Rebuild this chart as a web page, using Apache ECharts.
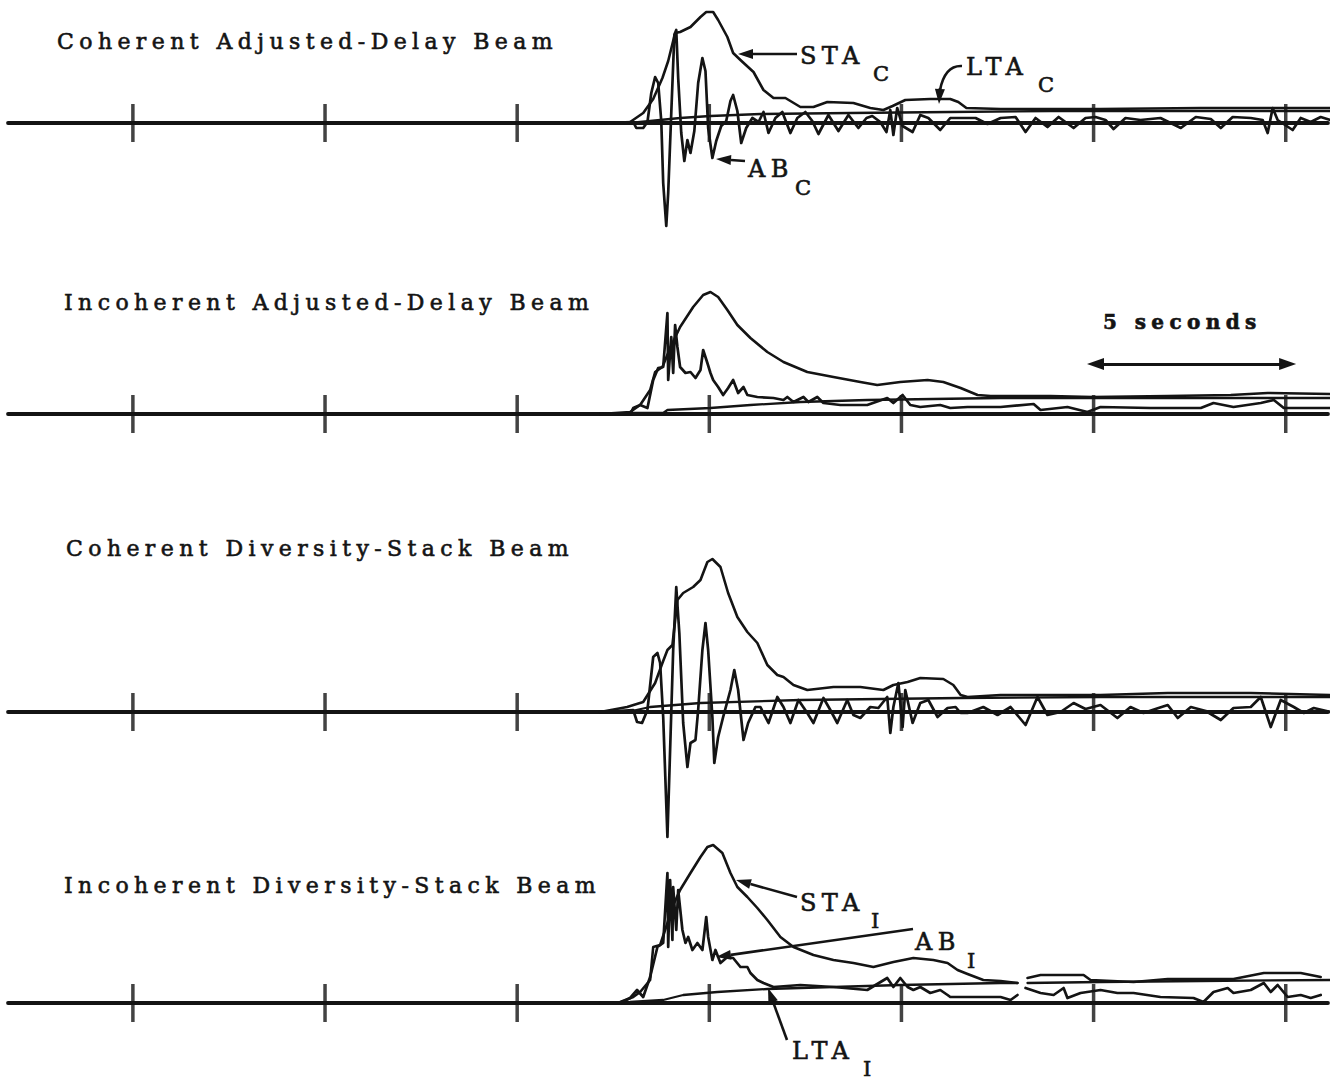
<!DOCTYPE html>
<html>
<head>
<meta charset="utf-8">
<script src="https://cdn.jsdelivr.net/npm/echarts@6/dist/echarts.min.js"></script>
<style>
  html, body { margin: 0; padding: 0; background: #fff; }
  #chart { width: 1332px; height: 1082px; }
  #chart svg text { letter-spacing: 5.4px; }
</style>
</head>
<body>
<div id="chart"></div>
<script>
// Beam traces: time in seconds, amplitude in plot units (0 = trace baseline)
const tickSeconds = [5, 10, 15, 20, 25, 30, 35];
const scaleBarSeconds = [30.05, 35.05];

const panelTitles = [
  'Coherent Adjusted-Delay Beam',
  'Incoherent Adjusted-Delay Beam',
  'Coherent Diversity-Stack Beam',
  'Incoherent Diversity-Stack Beam'
];

// --- Coherent adjusted-delay beam ---
const staCoherentDelay = [
  [17.16,0],[17.94,1],[18.28,10],[18.54,24],[18.78,45],[18.93,62],[19.11,90],[19.24,91],[19.51,96],[19.77,106],
  [19.92,111],[20.10,111],[20.23,103],[20.47,86],[20.62,70],[20.81,63],[21.15,51],[21.41,33],[21.67,25],[21.98,25],
  [22.37,16],[22.71,16],[23.07,21],[23.75,20],[24.19,15],[24.53,13],[24.77,17],[25.10,23],[25.75,24],[26.27,24],
  [26.48,21],[26.69,15],[27.58,14],[30.18,14],[32.79,15],[36.17,15]
];
const ltaCoherentDelay = [
  [17.94,0],[18.46,2],[19.24,5],[20.03,7],[21.33,9],[23.67,10],[26.27,11],[28.88,12],[36.17,12]
];
const abCoherentDelay = [
  [17.16,0],[18.02,1],[18.10,-5],[18.28,-5],[18.39,1],[18.49,30],[18.59,46],[18.67,40],[18.75,2],[18.80,-60],
  [18.88,-103],[18.93,-70],[19.01,10],[19.09,88],[19.14,93],[19.19,45],[19.27,-10],[19.35,-38],[19.43,-17],[19.51,-30],
  [19.61,-8],[19.71,40],[19.82,65],[19.90,52],[19.97,-5],[20.08,-35],[20.18,-18],[20.31,-3],[20.44,2],[20.55,22],
  [20.62,28],[20.73,12],[20.83,-20],[20.96,-5],[21.12,5],[21.28,1],[21.41,11],[21.54,-10],[21.72,5],[21.90,11],
  [22.11,-10],[22.29,5],[22.50,11],[22.68,2],[22.84,-11],[23.10,8],[23.36,-8],[23.62,8],[23.88,-5],[24.09,5],
  [24.24,7],[24.45,1],[24.61,-9],[24.71,13],[24.79,-12],[24.89,15],[25.03,-3],[25.29,-9],[25.49,8],[25.70,5],
  [26.01,-7],[26.27,5],[26.59,5],[26.93,5],[27.24,-1],[27.58,5],[27.97,6],[28.23,-9],[28.49,5],[28.80,-4],
  [29.09,6],[29.48,-5],[29.79,5],[30.05,6],[30.31,3],[30.52,-6],[30.83,5],[31.22,3],[31.74,5],[32.27,-5],
  [32.66,6],[33.05,4],[33.31,-5],[33.62,6],[34.09,5],[34.40,3],[34.53,-10],[34.66,15],[34.79,3],[35.18,-7],
  [35.39,5],[35.65,1],[35.91,6],[36.17,3]
];

// --- Incoherent adjusted-delay beam ---
const staIncoherentDelay = [
  [17.16,0],[17.94,2],[18.20,9],[18.46,24],[18.59,42],[18.78,47],[18.98,66],[19.24,87],[19.58,107],[19.84,119],
  [20.03,122],[20.23,117],[20.47,104],[20.73,89],[21.07,76],[21.51,62],[21.93,52],[22.55,42],[23.23,37],[23.93,32],
  [24.37,29],[24.97,32],[25.68,34],[26.09,32],[26.54,26],[26.98,19],[27.32,18],[28.88,18],[29.97,17],[31.93,18],
  [33.57,19],[34.53,21],[36.17,20]
];
const ltaIncoherentDelay = [
  [17.94,1],[18.80,1],[18.91,4],[20.03,6],[21.07,9],[22.37,12],[24.11,14],[25.83,15],[27.58,16],[36.17,16]
];
const abIncoherentDelay = [
  [17.16,0],[17.94,0],[18.02,6],[18.20,9],[18.39,6],[18.54,34],[18.67,46],[18.80,47],[18.91,101],[18.93,34],
  [19.01,77],[19.06,41],[19.11,89],[19.17,67],[19.24,47],[19.38,41],[19.51,42],[19.64,36],[19.77,44],[19.84,64],
  [19.95,51],[20.03,41],[20.10,34],[20.23,27],[20.36,19],[20.49,26],[20.62,34],[20.75,21],[20.89,27],[20.99,19],
  [21.25,17],[21.67,16],[21.93,14],[22.03,17],[22.19,12],[22.45,17],[22.58,12],[22.81,17],[22.97,11],[23.41,9],
  [24.11,9],[24.63,16],[24.79,11],[25.03,19],[25.23,9],[25.49,7],[26.01,9],[26.27,6],[26.72,7],[27.58,7],
  [28.44,10],[28.62,4],[29.32,7],[29.84,2],[30.18,7],[31.48,6],[32.79,6],[33.12,11],[33.64,7],[34.35,11],
  [34.69,14],[34.95,6],[35.39,6],[36.17,6]
];

// --- Coherent diversity-stack beam ---
const staCoherentStack = [
  [17.16,0],[17.86,5],[18.28,10],[18.59,29],[18.78,49],[18.91,62],[19.04,67],[19.17,112],[19.32,119],[19.58,125],
  [19.77,132],[19.95,150],[20.08,153],[20.29,145],[20.49,119],[20.73,95],[20.99,80],[21.25,69],[21.51,47],[21.77,37],
  [21.93,35],[22.19,27],[22.55,22],[23.23,25],[23.93,25],[24.53,22],[24.79,27],[25.16,30],[25.49,34],[26.09,33],
  [26.35,27],[26.54,17],[26.72,15],[27.58,17],[30.18,17],[31.93,19],[34.09,19],[36.17,17]
];
const ltaCoherentStack = [
  [17.86,0],[18.46,5],[19.77,9],[22.37,12],[26.54,14],[30.18,15],[36.17,15]
];
const abCoherentStack = [
  [17.16,0],[18.02,2],[18.12,-10],[18.25,-11],[18.39,2],[18.54,55],[18.65,59],[18.72,49],[18.80,-5],[18.91,-125],
  [18.98,-38],[19.06,62],[19.14,125],[19.22,79],[19.32,-11],[19.43,-55],[19.51,-31],[19.64,-28],[19.71,2],[19.82,62],
  [19.90,89],[19.97,62],[20.08,-5],[20.13,-51],[20.23,-25],[20.36,-5],[20.55,22],[20.65,42],[20.75,22],[20.89,-28],
  [21.01,-11],[21.20,5],[21.33,5],[21.54,-11],[21.77,15],[21.93,5],[22.11,-11],[22.32,12],[22.55,-1],[22.71,-11],
  [22.97,14],[23.15,2],[23.33,-11],[23.59,12],[23.75,-3],[23.93,-6],[24.19,5],[24.40,4],[24.63,15],[24.71,-21],
  [24.79,5],[24.92,29],[25.03,-15],[25.10,22],[25.29,-11],[25.49,9],[25.70,12],[25.94,-5],[26.20,4],[26.41,5],
  [26.54,-1],[26.72,-1],[27.13,5],[27.50,-3],[27.84,5],[28.23,-13],[28.54,15],[28.80,-3],[29.14,0],[29.48,9],
  [29.79,3],[30.18,7],[30.62,-6],[30.96,5],[31.30,-1],[31.61,3],[31.93,7],[32.19,-6],[32.53,5],[32.92,1],
  [33.31,-8],[33.64,4],[34.09,5],[34.35,15],[34.61,-15],[34.87,12],[35.21,5],[35.47,-1],[35.73,4],[36.17,0]
];

// --- Incoherent diversity-stack beam (record splice near 28.15 s) ---
const staIncoherentStack = [
  [17.16,0],[17.68,1],[18.02,6],[18.20,11],[18.46,23],[18.54,56],[18.72,58],[18.91,80],[19.04,96],[19.24,113],
  [19.51,130],[19.77,146],[19.95,156],[20.10,158],[20.34,150],[20.55,130],[20.73,116],[20.99,106],[21.25,95],[21.51,83],
  [21.85,66],[22.19,56],[22.71,48],[23.23,43],[23.75,40],[24.27,36],[24.79,41],[25.31,45],[25.83,43],[26.20,40],
  [26.46,33],[26.72,29],[27.13,23],[27.58,22],[28.02,20],[28.15,null],[28.28,25],[28.62,28],[29.74,28],[29.92,23],
  [31.04,21],[31.93,24],[33.64,24],[34.43,30],[35.39,30],[35.91,26]
];
const ltaIncoherentStack = [
  [17.94,1],[18.80,3],[19.32,8],[20.21,11],[21.51,14],[23.23,16],[24.97,18],[27.58,20],[28.02,20],[28.15,null],
  [28.28,20],[30.18,21],[32.79,22],[36.17,23]
];
const abIncoherentStack = [
  [17.16,0],[17.68,0],[17.94,5],[18.12,13],[18.28,6],[18.46,26],[18.65,56],[18.80,60],[18.91,130],[18.93,56],
  [18.98,123],[19.04,63],[19.06,116],[19.14,73],[19.19,113],[19.30,73],[19.38,60],[19.45,66],[19.56,53],[19.69,60],
  [19.82,53],[19.92,86],[19.97,66],[20.08,43],[20.16,53],[20.29,40],[20.47,46],[20.62,45],[20.81,36],[20.99,36],
  [21.07,30],[21.25,23],[21.41,20],[21.67,16],[22.37,18],[23.23,16],[24.11,13],[24.63,25],[24.79,16],[24.97,25],
  [25.16,16],[25.31,13],[25.49,16],[25.75,10],[26.01,13],[26.20,8],[26.27,6],[27.58,6],[27.84,3],[28.02,8],
  [28.15,null],[28.23,15],[28.62,10],[28.96,8],[29.22,15],[29.32,5],[29.66,10],[30.18,13],[30.62,10],[31.04,10],
  [31.74,6],[32.60,5],[32.86,1],[33.12,11],[33.49,15],[33.64,10],[34.09,13],[34.43,20],[34.61,11],[34.79,18],
  [35.05,6],[35.39,8],[35.65,5],[35.91,8]
];

// layout of the four stacked records
const ink = '#141414';
const panels = [
  { top: 3,   yMin: -110, yMax: 120, sta: staCoherentDelay,   lta: ltaCoherentDelay,   ab: abCoherentDelay },
  { top: 284, yMin: -30,  yMax: 130, sta: staIncoherentDelay, lta: ltaIncoherentDelay, ab: abIncoherentDelay },
  { top: 552, yMin: -130, yMax: 160, sta: staCoherentStack,   lta: ltaCoherentStack,   ab: abCoherentStack },
  { top: 838, yMin: -45,  yMax: 165, sta: staIncoherentStack, lta: ltaIncoherentStack, ab: abIncoherentStack }
];

const grid = [], xAxis = [], yAxis = [], series = [];
panels.forEach((p, i) => {
  grid.push({ left: 8, width: 1320, top: p.top, height: p.yMax - p.yMin, containLabel: false });
  xAxis.push({
    gridIndex: i, type: 'value', min: 1.75, max: 36.1,
    axisLine: { show: true, onZero: true, lineStyle: { color: ink, width: 3.8 } },
    axisTick: { show: false }, axisLabel: { show: false }, splitLine: { show: false }
  });
  yAxis.push({ gridIndex: i, type: 'value', min: p.yMin, max: p.yMax, show: false, splitLine: { show: false } });

  series.push({
    type: 'scatter', xAxisIndex: i, yAxisIndex: i, silent: true, z: 3,
    symbol: 'rect', symbolSize: [3.5, 38],
    itemStyle: { color: ink },
    data: tickSeconds.map(t => [t, 0])
  });
  const lineOf = (data, width) => ({
    type: 'line', xAxisIndex: i, yAxisIndex: i, data, showSymbol: false, silent: true,
    connectNulls: false, z: 4,
    lineStyle: { color: ink, width, join: 'round', cap: 'round' }
  });
  series.push(lineOf(p.lta, 2.3));
  series.push(lineOf(p.sta, 2.6));
  series.push(lineOf(p.ab, 2.7));
});

// 5-second scale bar drawn on the second record's axes
series.push({
  type: 'line', xAxisIndex: 1, yAxisIndex: 1, data: [], silent: true,
  markLine: {
    silent: true, animation: false,
    symbol: ['triangle', 'triangle'], symbolSize: [12, 17],
    label: { show: false },
    lineStyle: { type: 'solid', color: ink, width: 3 },
    data: [[{ coord: [scaleBarSeconds[0], 50] }, { coord: [scaleBarSeconds[1], 50] }]]
  }
});

// annotation helpers
const titleFont = '22px "DejaVu Serif"';
const tagFont = '24px "DejaVu Serif"';
const subFont = '21px "DejaVu Serif"';
function label(text, x, y, f) {
  return { type: 'text', x, y, silent: true, z: 10,
    style: { text, font: f || titleFont, fill: ink, stroke: ink, lineWidth: 0.6,
      textAlign: 'left', textVerticalAlign: 'middle', verticalAlign: 'middle' } };
}
function arrow(x1, y1, x2, y2) {
  const L = 15, W = 5;
  const dx = x2 - x1, dy = y2 - y1, len = Math.hypot(dx, dy);
  const ux = dx / len, uy = dy / len;
  const bx = x2 - ux * L, by = y2 - uy * L;
  return [
    { type: 'line', silent: true, z: 10, shape: { x1, y1, x2: bx, y2: by }, style: { stroke: ink, lineWidth: 2.6 } },
    { type: 'polygon', silent: true, z: 10,
      shape: { points: [[x2, y2], [bx - uy * W, by + ux * W], [bx + uy * W, by - ux * W]] },
      style: { fill: ink } }
  ];
}

const graphic = [
  label(panelTitles[0], 57, 41),
  label(panelTitles[1], 64, 302),
  label(panelTitles[2], 66, 548),
  label(panelTitles[3], 64, 885),
  label('5 seconds', 1103, 322, 'bold 20px "DejaVu Serif"'),

  label('STA', 800, 56, tagFont), label('C', 873, 74, subFont),
  ...arrow(797, 54, 738, 54),
  label('LTA', 966, 67, tagFont), label('C', 1038, 85, subFont),
  { type: 'bezierCurve', silent: true, z: 10,
    shape: { x1: 962, y1: 66, cpx1: 945, cpy1: 65, x2: 940, y2: 90 },
    style: { stroke: ink, lineWidth: 2.6, fill: null } },
  ...arrow(940, 88, 939, 104),
  label('AB', 748, 169, tagFont), label('C', 795, 188, subFont),
  ...arrow(745, 161, 716, 159),

  label('STA', 800, 903, tagFont), label('I', 871, 921, subFont),
  ...arrow(797, 897, 736, 880),
  label('AB', 915, 942, tagFont), label('I', 967, 961, subFont),
  ...arrow(913, 929, 716, 957),
  label('LTA', 792, 1051, tagFont), label('I', 863, 1069, subFont),
  ...arrow(787, 1040, 768, 988)
];

const chart = echarts.init(document.getElementById('chart'), null, { renderer: 'svg', width: 1332, height: 1082 });
chart.setOption({
  backgroundColor: '#ffffff',
  animation: false,
  grid, xAxis, yAxis, series, graphic
});
</script>
</body>
</html>
